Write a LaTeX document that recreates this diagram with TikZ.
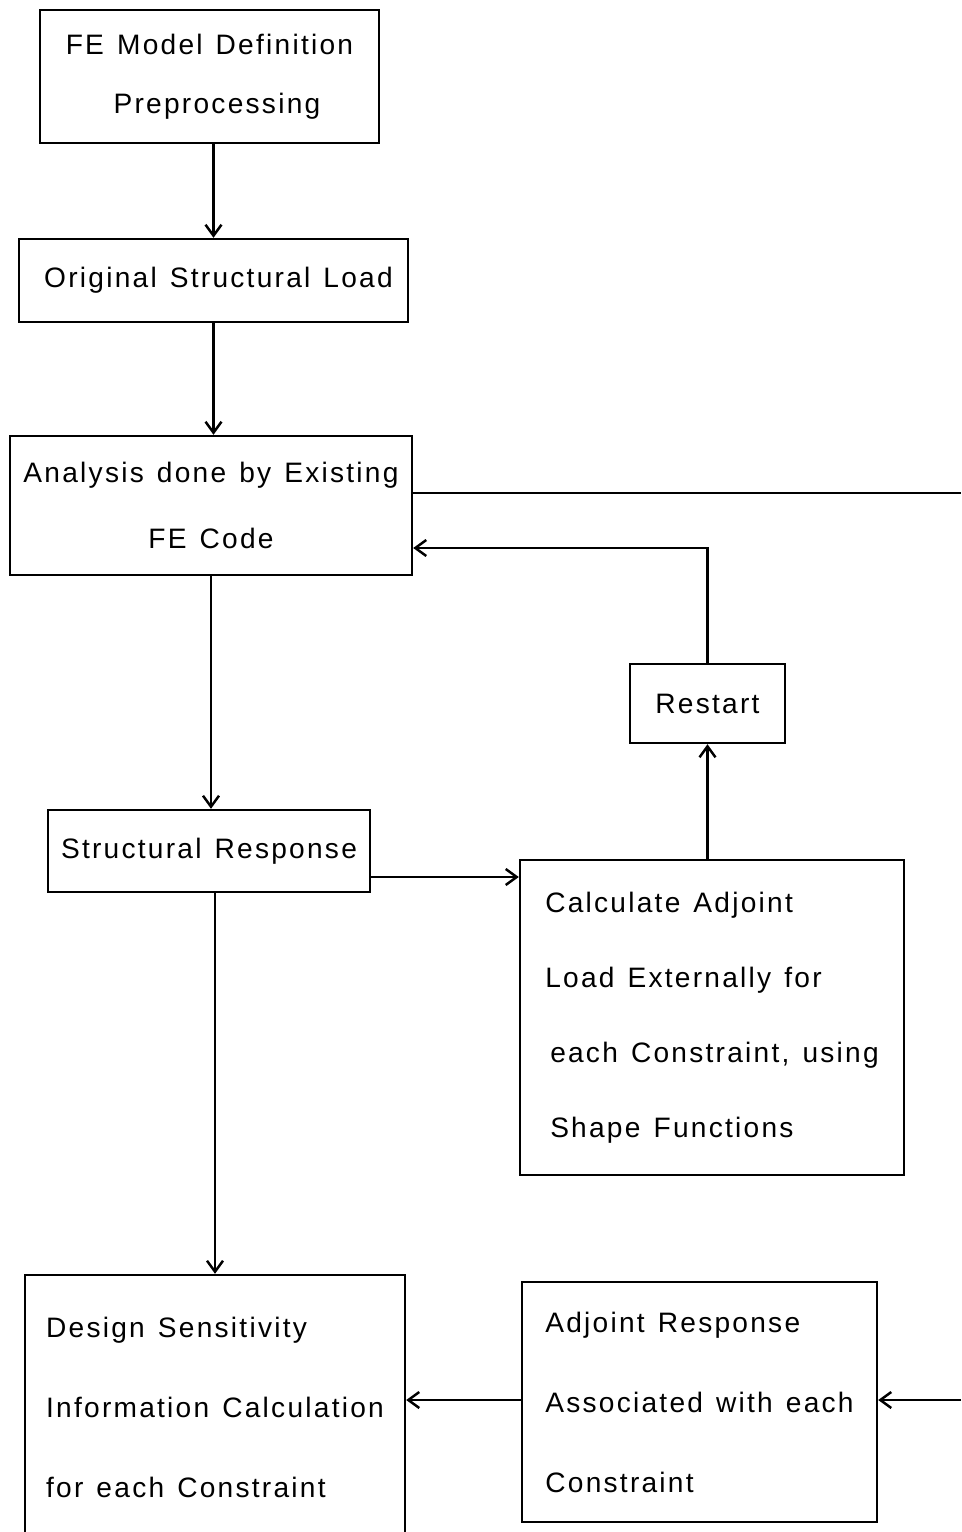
\documentclass[tikz,border=0pt]{standalone}
\usepackage{fontspec}
\newfontfamily\lettering[LetterSpace=8,WordSpace=1.3]{Liberation Sans}
\usetikzlibrary{arrows.meta}
\tikzset{
  box/.style={draw, line width=1.4pt, font=\lettering\fontsize{16}{19}\selectfont, inner sep=0pt},
  leftbox/.style={box, align=left},
  arr/.style={line width=1.4pt, -{Straight Barb[length=2.2mm,width=3.2mm,line width=1.4pt]}}
}
\begin{document}
\begin{tikzpicture}[x=0.02cm, y=-0.02cm]
        \useasboundingbox (0,0) rectangle (961,1532);
        % 绘制方框
        \node[box, align=center, minimum width=6.78cm, minimum height=2.66cm] (fe) at (209.5,76.5)
          {FE Model Definition\\[14.6pt]\hspace*{0.3cm}Preprocessing};
        \node[box, minimum width=7.78cm, minimum height=1.66cm] (load) at (213.5,280.5) {\hspace*{0.2cm}Original Structural Load};
        \node[box, align=center, minimum width=8.04cm, minimum height=2.78cm] (ana) at (211,505.5)
          {Analysis done by Existing\\[18.5pt]FE Code};
        \node[box, minimum width=3.1cm, minimum height=1.58cm] (restart) at (707.5,703.5) {Restart};
        \node[box, minimum width=6.44cm, minimum height=1.64cm] (resp) at (209,851) {Structural Response};
        \node[leftbox, minimum width=7.68cm, minimum height=6.3cm] (calc) at (712,1017.5)
          {Calculate Adjoint\\[23.7pt]Load Externally for\\[23.7pt]\hspace*{0.1cm}each Constraint, using\\[23.7pt]\hspace*{0.1cm}Shape Functions};
        \node[leftbox, minimum width=7.6cm, minimum height=5.28cm] (sens) at (215,1407)
          {Design Sensitivity\\[26.5pt]Information Calculation\\[26.5pt]for each Constraint};
        \node[leftbox, minimum width=7.1cm, minimum height=4.8cm] (adj) at (699.5,1402)
          {Adjoint Response\\[26.5pt]Associated with each\\[26.5pt]Constraint};
        % 绘制外部端点
        \coordinate (outA) at (961,493);
        \coordinate (outB) at (961,1400);
        % 绘制连线
        \draw[arr] (load.north |- fe.south) -- (load.north);
        \draw[arr] (load.south) -- (load.south |- ana.north);
        \draw[arr] (ana.south) -- (ana.south |- resp.north);
        \draw[arr] ([yshift=-0.52cm]resp.east) -- ([yshift=-0.52cm]resp.east -| calc.west);
        \draw[arr] (restart.south |- calc.north) -- (restart.south);
        \draw[arr] (restart.north) |- ([yshift=-0.85cm]ana.east);
        \draw[line width=1.4pt] (ana.east |- outA) -- (outA);
        \draw[arr] (outB) -- (outB -| adj.east);
        \draw[arr] (adj.west |- outB) -- (sens.east |- outB);
        \draw[arr] (sens.north |- resp.south) -- (sens.north);
      \end{tikzpicture}
\end{document}
